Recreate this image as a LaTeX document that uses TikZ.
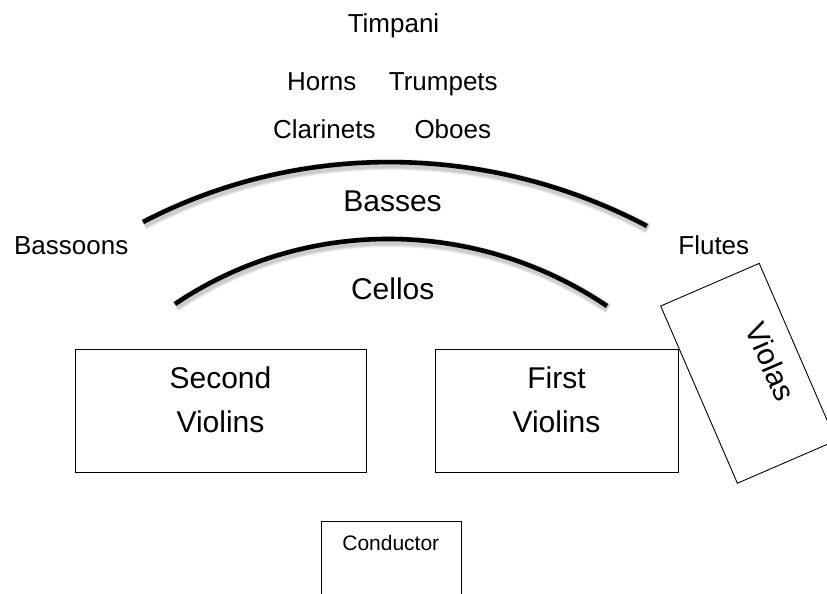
\documentclass[tikz,border=0pt]{standalone}
\usepackage{fontspec}
\setmainfont{Liberation Sans}
\begin{document}
\begin{tikzpicture}[x=1pt,y=-1pt,
  lbl/.style={anchor=base, inner sep=0pt, font=\fontsize{26}{30}\selectfont},
  biglbl/.style={anchor=base, inner sep=0pt, font=\fontsize{30}{36}\selectfont},
  smalllbl/.style={anchor=base, inner sep=0pt, font=\fontsize{21}{25}\selectfont},
  section/.style={draw=black, line width=0.9pt, inner sep=0pt},
  sectiontext/.style={anchor=north, inner sep=0pt, align=center, font=\fontsize{30}{44}\selectfont},
  riser/.style={line width=4.6pt, draw=black},
  haze/.style={draw=black, opacity=0.07},
  bassarc/.style={insert path={(143,222) .. controls (300.6,139.8) and (489.6,143.2) .. (647,226)}},
  celloarc/.style={insert path={(175,304) .. controls (305.5,216) and (476.5,218) .. (607,306)}},
]
\useasboundingbox (0,0) rectangle (827,594);
\clip (0,0) rectangle (827,594);

% back rows
\node[lbl] (timpani)   at (393.5,32.3)  {Timpani};
\node[lbl] (horns)     at (321.7,90)    {Horns};
\node[lbl] (trumpets)  at (443.3,90)    {Trumpets};
\node[lbl] (clarinets) at (324.3,138.3) {Clarinets};
\node[lbl] (oboes)     at (452.8,138.3) {Oboes};
\node[lbl] (bassoons)  at (71.2,254.3)  {Bassoons};
\node[lbl] (flutes)    at (713.8,254.3) {Flutes};

% soft shadow under the two curved rows
\begin{scope}[shift={(1,2.5)}]
  \foreach \w in {11,9,7}
    \draw[haze, line width=\w pt, bassarc];
  \foreach \w in {11,9,7}
    \draw[haze, line width=\w pt, celloarc];
\end{scope}
\draw[riser, bassarc];
\draw[riser, celloarc];

\node[biglbl] (basses) at (392.5,211.7) {Basses};
\node[biglbl] (cellos) at (392.7,299)   {Cellos};

% violin sections
\node[section, minimum width=291pt, minimum height=123pt] (second) at (220.5,410.5) {};
\node[sectiontext] (secondtext) at (220.5,366.5) {Second\\Violins};
\node[section, minimum width=243pt, minimum height=123pt] (first) at (556.5,410.5) {};
\node[sectiontext] (firsttext) at (556.5,366.5) {First\\Violins};

% violas, turned towards the centre
\node[section, rotate=23.4, minimum width=107.4pt, minimum height=193.1pt] (violas) at (748.3,373.3) {};
\node[rotate=-66.6, inner sep=0pt, font=\fontsize{30}{36}\selectfont] (violastext) at (770.7,361.7) {Violas};

% podium
\node[section, anchor=north, minimum width=140pt, minimum height=110pt] (podium) at (391,521) {};
\node[smalllbl] (conductor) at (390.8,550) {Conductor};
\end{tikzpicture}
\end{document}
